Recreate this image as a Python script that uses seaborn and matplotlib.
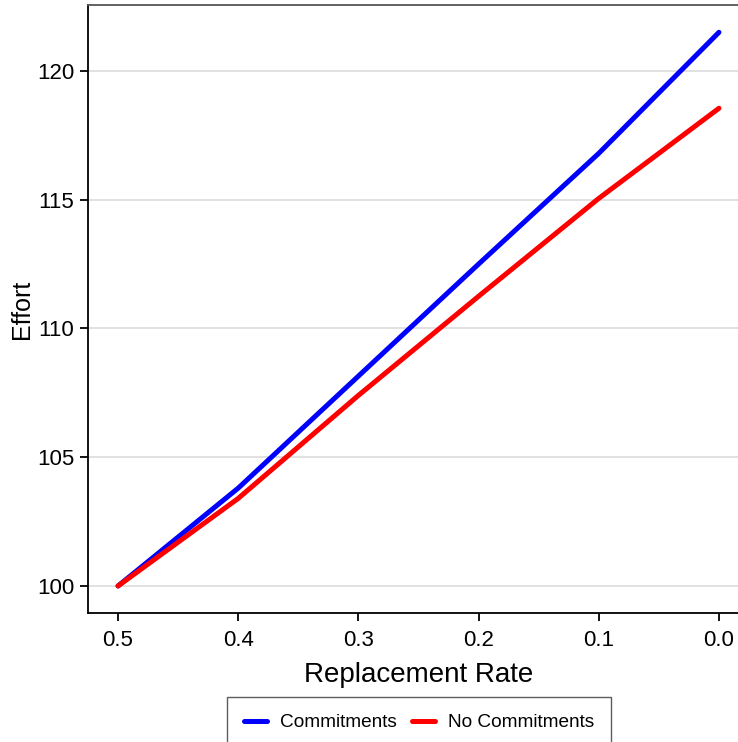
import numpy as np
import pandas as pd
import seaborn as sns
import matplotlib
matplotlib.use('Agg')
import matplotlib.pyplot as plt

# data
rate = [0.5, 0.4, 0.3, 0.2, 0.1, 0.0]
effort_commit = [100.0, 103.8, 108.15, 112.5, 116.8, 121.5]
effort_nocommit = [100.0, 103.4, 107.4, 111.25, 115.05, 118.55]
series = ['Commitments', 'No Commitments']
colors = ['#0000ff', '#ff0000']
yticks = [100, 105, 110, 115, 120]
xticks = [0.5, 0.4, 0.3, 0.2, 0.1, 0.0]

df = pd.DataFrame({
    'rate': rate * 2,
    'effort': effort_commit + effort_nocommit,
    'series': [series[0]] * len(rate) + [series[1]] * len(rate),
})

sns.set_theme(style='white')
plt.rcParams['font.family'] = ['Liberation Sans', 'DejaVu Sans']
plt.rcParams['text.color'] = 'black'
plt.rcParams['axes.labelcolor'] = 'black'
plt.rcParams['xtick.color'] = 'black'
plt.rcParams['ytick.color'] = 'black'

fig = plt.figure(figsize=(7.38, 7.42), dpi=100)
ax = fig.add_axes([88 / 738, 1 - 613 / 742, (749 - 88) / 738, (613 - 5) / 742])

sns.lineplot(data=df, x='rate', y='effort', hue='series', hue_order=series,
             palette=colors, linewidth=3.6, ax=ax, legend=False)

ax.set_xlim(0.525, -0.025)
ax.set_ylim(98.95, 122.56)
ax.set_xticks(xticks)
ax.set_xticklabels(['%.1f' % v for v in xticks])
ax.set_yticks(yticks)
ax.yaxis.grid(True, color='#dcdcdc', linewidth=1.2)
ax.set_axisbelow(True)
ax.tick_params(axis='both', direction='out', length=6, width=1.3, color='black',
               labelsize=16, bottom=True, left=True)
ax.tick_params(axis='x', pad=6)
ax.tick_params(axis='y', pad=4)
ax.set_xlabel('Replacement Rate', fontsize=20, labelpad=8)
ax.set_ylabel('Effort', fontsize=18, labelpad=2)

for side in ['left', 'bottom']:
    ax.spines[side].set_color('black')
    ax.spines[side].set_linewidth(1.3)
ax.spines['top'].set_color('#555555')
ax.spines['top'].set_linewidth(1.3)
ax.spines['right'].set_visible(False)

handles = [plt.Line2D([], [], color=c, linewidth=3.6) for c in colors]
leg = fig.legend(handles, series, loc='upper center',
                 bbox_to_anchor=(419 / 738, 1 - 697 / 742), borderaxespad=0, ncol=2,
                 fontsize=13.7, frameon=True, fancybox=False, edgecolor='#333333',
                 handlelength=1.2, columnspacing=0.8, borderpad=0.9, handletextpad=0.7)
leg.get_frame().set_linewidth(1.0)

fig.savefig('out.png', dpi=100)
